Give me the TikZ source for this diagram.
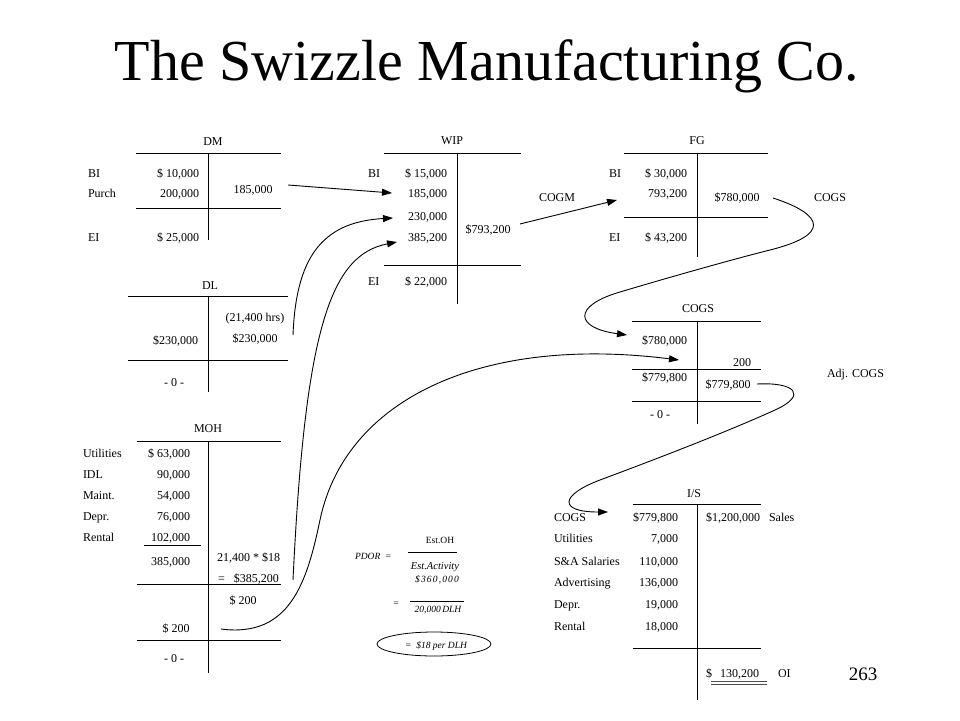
\documentclass[tikz,border=0pt]{standalone}
\usepackage{fontspec}
\setmainfont{Liberation Serif}
\usetikzlibrary{arrows.meta,shapes.geometric}
\begin{document}
\begin{tikzpicture}[x=1pt,y=-1pt,
  every node/.style={inner sep=0pt, outer sep=0pt, font=\fontsize{12}{14}\selectfont},
  rt/.style={anchor=base east}, lt/.style={anchor=base west}, ct/.style={anchor=base},
  tline/.style={line width=1pt},
  conn/.style={line width=0.9pt, -{Triangle[length=10pt,width=7pt]}},
  sm/.style={font=\fontsize{9.5}{11}\selectfont\itshape}]
\useasboundingbox (0,0) rectangle (960,720);
\node[ct, font=\fontsize{58}{60}\selectfont] (title) at (487,80) {The Swizzle Manufacturing Co.};
\node[ct, font=\fontsize{19}{21}\selectfont] (page) at (863,680) {263};

% ---------- DM ----------
\node[ct] (dmT) at (213,145) {DM};
\draw[tline] (136,153) -- (281,153) (136,208) -- (281,208) (208,153) -- (208,240);
\node[lt] (dmBI) at (88,177) {BI};
\node[lt] (dmPu) at (88,197) {Purch};
\node[lt] (dmEI) at (88,241) {EI};
\node[rt] (dm1) at (199,177) {\$ 10,000};
\node[rt] (dm2) at (199,197) {200,000};
\node[rt] (dm3) at (199,241) {\$ 25,000};
\node[ct] (dm4) at (253,193) {185,000};

% ---------- WIP ----------
\node[ct] (wipT) at (452,144) {WIP};
\draw[tline] (384,153) -- (521,153) (384,265) -- (521,265) (457,153) -- (457,304);
\node[lt] (wipBI) at (368,177) {BI};
\node[lt] (wipEI) at (368,285) {EI};
\node[rt] (w1) at (447,177) {\$ 15,000};
\node[rt] (w2) at (447,197) {185,000};
\node[rt] (w3) at (447,220) {230,000};
\node[rt] (w4) at (447,241) {385,200};
\node[rt] (w5) at (447,285) {\$ 22,000};
\node[ct] (w6) at (488,233) {\$793,200};
\node[ct] (cogm) at (557,201) {COGM};

% ---------- FG ----------
\node[ct] (fgT) at (697,144) {FG};
\draw[tline] (624,153) -- (768,153) (624,217) -- (768,217) (697,153) -- (697,257);
\node[lt] (fgBI) at (609,177) {BI};
\node[lt] (fgEI) at (609,241) {EI};
\node[rt] (f1) at (687,177) {\$ 30,000};
\node[rt] (f2) at (687,197) {793,200};
\node[rt] (f3) at (687,241) {\$ 43,200};
\node[ct] (f4) at (737,201) {\$780,000};
\node[ct] (cogsLbl) at (830,201) {COGS};

% ---------- DL ----------
\node[ct] (dlT) at (210,289) {DL};
\draw[tline] (128,296) -- (288,296) (128,360) -- (288,360) (208,296) -- (208,392);
\node[ct] (dl1) at (255,321) {(21,400 hrs)};
\node[ct] (dl2) at (255,342) {\$230,000};
\node[rt] (dl3) at (198,344) {\$230,000};
\node[ct] (dl4) at (174,386) {-\ 0\ -};

% ---------- COGS ----------
\node[ct] (cgT) at (698,312) {COGS};
\draw[tline] (632,321) -- (761,321) (632,369) -- (761,369) (632,401) -- (761,401) (697,321) -- (697,424);
\node[rt] (cg1) at (687,344) {\$780,000};
\node[rt] (cg2) at (751,366) {200};
\node[rt] (cg3) at (687,381) {\$779,800};
\node[ct] (cg4) at (728,388) {\$779,800};
\node[ct] (cg5) at (660,418) {-\ 0\ -};
\node[lt] (adj) at (827,377) {Adj. COGS};

% ---------- MOH ----------
\node[ct] (mohT) at (208,432) {MOH};
\draw[tline] (137,441) -- (281,441) (137,584) -- (281,584) (137,640) -- (281,640) (208,441) -- (208,673);
\draw[line width=0.8pt] (144,545) -- (201,545);
\node[lt] (mL1) at (83,457) {Utilities};
\node[lt] (mL2) at (83,478) {IDL};
\node[lt] (mL3) at (83,499) {Maint.};
\node[lt] (mL4) at (83,520) {Depr.};
\node[lt] (mL5) at (83,541) {Rental};
\node[rt] (m1) at (190,457) {\$ 63,000};
\node[rt] (m2) at (190,478) {90,000};
\node[rt] (m3) at (190,499) {54,000};
\node[rt] (m4) at (190,520) {76,000};
\node[rt] (m5) at (190,541) {102,000};
\node[rt] (m6) at (190,565) {385,000};
\node[lt] (m7) at (217,561) {21,400 * \$18};
\node[lt] (m8) at (218,582) {=\ \ \ \$385,200};
\node[ct] (m9) at (243,604) {\$ 200};
\node[ct] (m10) at (176,632) {\$ 200};
\node[ct] (m11) at (174,662) {-\ 0\ -};

% ---------- PDOR ----------
\node[lt, sm] (pdor) at (355,559) {PDOR\ \ =};
\node[ct, font=\fontsize{9.5}{11}\selectfont] (estoh) at (440,543) {Est.OH};
\draw[line width=0.8pt] (408,552) -- (457,552);
\node[ct, sm, font=\fontsize{10.5}{12}\selectfont\itshape] (estact) at (435,569) {Est.Activity};
\node[ct, sm] (num) at (437,582) {\addfontfeature{LetterSpace=12}\$360,000};
\draw[line width=0.8pt] (410,601) -- (464,601);
\node[ct, sm] (eq2) at (396,606) {=};
\node[ct, sm] (den) at (438,612) {20,000\,DLH};
\node[draw, ellipse, line width=0.8pt, minimum width=114pt, minimum height=24pt] (rate) at (434,644) {};
\node[ct, sm] (ratetxt) at (436,648) {=\ \ \$18 per DLH};

% ---------- I/S ----------
\node[ct] (isT) at (694,497) {I/S};
\draw[tline] (633,504) -- (761,504) (633,648) -- (761,648) (697,504) -- (697,700);
\node[lt] (iL1) at (554,521) {COGS};
\node[lt] (iL2) at (554,542) {Utilities};
\node[lt] (iL3) at (554,565) {S\&A Salaries};
\node[lt] (iL4) at (554,586) {Advertising};
\node[lt] (iL5) at (554,608) {Depr.};
\node[lt] (iL6) at (554,630) {Rental};
\node[rt] (i1) at (678,521) {\$779,800};
\node[rt] (i2) at (678,542) {7,000};
\node[rt] (i3) at (678,565) {110,000};
\node[rt] (i4) at (678,586) {136,000};
\node[rt] (i5) at (678,608) {19,000};
\node[rt] (i6) at (678,630) {18,000};
\node[lt] (sales) at (706,521) {\$1,200,000};
\node[lt] (salesL) at (769,521) {Sales};
\node[lt] (oi) at (706,677) {\$\hspace{8pt}130,200};
\node[lt] (oiL) at (778,677) {OI};
\draw[gray!60!black, line width=0.9pt] (711,681) -- (767,681) (711,684.5) -- (767,684.5);

% ---------- connectors ----------
\coordinate (dmout) at (288,185);
\coordinate (wip185) at (392,193);
\coordinate (dlout) at (293,335);
\coordinate (wip230) at (393,218);
\coordinate (mohout) at (293,580);
\coordinate (wip385) at (397,242);
\coordinate (moh200) at (221,629);
\coordinate (cogs200) at (679,360);
\coordinate (wipout) at (520,224);
\coordinate (fgin) at (617,200);
\coordinate (fgout) at (773,198);
\coordinate (cogsin) at (627,335);
\coordinate (cogsout) at (757,384);
\coordinate (isin) at (608,512);

\draw[conn] (dmout) -- (wip185);
\draw[conn] (dlout) .. controls (296,260) and (320,222) .. (wip230);
\draw[conn] (mohout) .. controls (305,330) and (330,255) .. (wip385);
\draw[conn] (moh200) .. controls (290,638) and (307,582) .. (320,520) .. controls (345,400) and (480,335) .. (cogs200);
\draw[conn] (wipout) -- (fgin);
\draw[conn] (fgout) .. controls (825,215) and (830,235) .. (770,250) .. controls (730,260) and (660,280) .. (620,292) .. controls (572,306) and (575,328) .. (cogsin);
\draw[conn] (cogsout) .. controls (795,382) and (808,395) .. (775,410) .. controls (720,435) and (640,465) .. (600,480) .. controls (560,495) and (558,512) .. (isin);
\end{tikzpicture}
\end{document}
